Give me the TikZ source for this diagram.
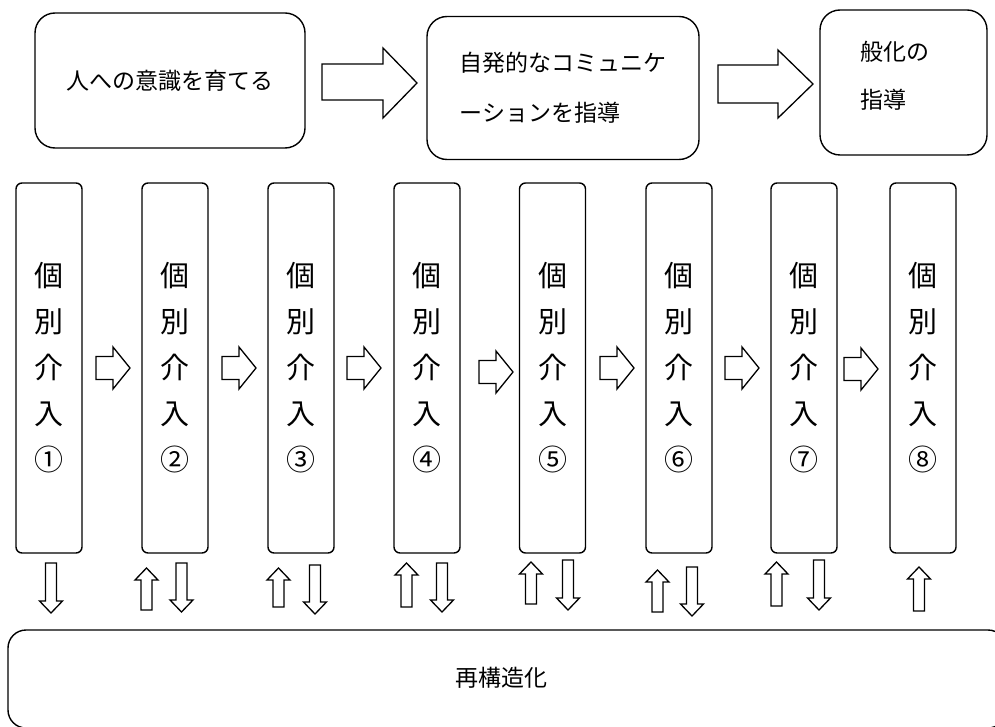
\documentclass[tikz,border=0pt]{standalone}
\usepackage{fontspec}
\setmainfont{Noto Sans CJK JP}
\newcommand\rblk[2]{\draw[blk] (#1,#2-11.5) -- (#1+17,#2-11.5) -- (#1+17,#2-21) -- (#1+34,#2) -- (#1+17,#2+21) -- (#1+17,#2+11.5) -- (#1,#2+11.5) -- cycle;}
\newcommand\dblk[3]{\draw[blk] (#1-5.5,#2) -- (#1+5.5,#2) -- (#1+5.5,#3-12) -- (#1+11.5,#3-12) -- (#1,#3) -- (#1-11.5,#3-12) -- (#1-5.5,#3-12) -- cycle;}
\newcommand\ublk[3]{\draw[blk] (#1,#2) -- (#1+11.5,#2+12) -- (#1+5.5,#2+12) -- (#1+5.5,#3) -- (#1-5.5,#3) -- (#1-5.5,#2+12) -- (#1-11.5,#2+12) -- cycle;}
\begin{document}
\begin{tikzpicture}[x=1pt,y=-1pt,
  box/.style={draw, line width=1.4pt, rounded corners=20pt, inner sep=0pt},
  vbox/.style={draw, line width=1.4pt, rounded corners=6pt, inner sep=0pt,
    minimum width=66pt, minimum height=370pt, align=center,
    font={\fontsize{29}{46}\selectfont}},
  txt/.style={inner sep=0pt, font={\fontsize{23}{50}\selectfont}},
  blk/.style={draw, line width=1.3pt, fill=white, line join=miter}]
\useasboundingbox (0,0) rectangle (995,727);
\clip (0,0) rectangle (995,727);
% top boxes
\node[box, minimum width=270pt, minimum height=135pt, txt, draw] (t1) at (170,80.5) {人への意識を育てる};
\node[box, minimum width=272pt, minimum height=143pt, txt, draw, align=left] (t2) at (563,88) {自発的なコミュニケ\\ーションを指導};
\node[box, minimum width=167pt, minimum height=145pt] (t3) at (903.5,82.5) {};
\node[txt, align=left, font={\fontsize{23}{48}\selectfont}] (t3txt) at (894.5,76) {般化の\\指導};
% big arrows
\draw[blk] (322,64) -- (383,64) -- (383,48) -- (417,83) -- (383,118) -- (383,100) -- (322,100) -- cycle;
\draw[blk] (718,65) -- (778,65) -- (778,50) -- (813,84) -- (778,118) -- (778,103) -- (718,103) -- cycle;
% vertical boxes
\foreach \i/\x/\n in {1/49/①,2/175/②,3/301/③,4/427/④,5/552.5/⑤,6/679/⑥,7/804/⑦,8/923/⑧}
  \node[vbox] (v\i) at (\x,368) {個\\別\\介\\入\\\n};
% small right arrows
\rblk{96}{368}
\rblk{222}{368}
\rblk{347}{368}
\rblk{479}{372}
\rblk{600}{368}
\rblk{725}{368}
\rblk{844}{369}
% bottom arrows
\dblk{51}{563}{613}
\ublk{146.5}{568}{610}
\dblk{181.5}{563}{612}
\ublk{278.5}{568}{607}
\dblk{315}{565}{614}
\ublk{406.5}{563}{607}
\dblk{442}{563}{612}
\ublk{531}{562}{604}
\dblk{568}{560}{610}
\ublk{657.5}{570}{612}
\dblk{692}{567}{616}
\ublk{776.5}{562}{606}
\dblk{819}{560}{610}
\ublk{919}{567}{611}
% bottom box
\node[box, rounded corners=18pt, minimum width=998pt, minimum height=98pt] (b) at (507,679) {};
\node[txt] (btxt) at (501.5,678) {再構造化};
\end{tikzpicture}
\end{document}
